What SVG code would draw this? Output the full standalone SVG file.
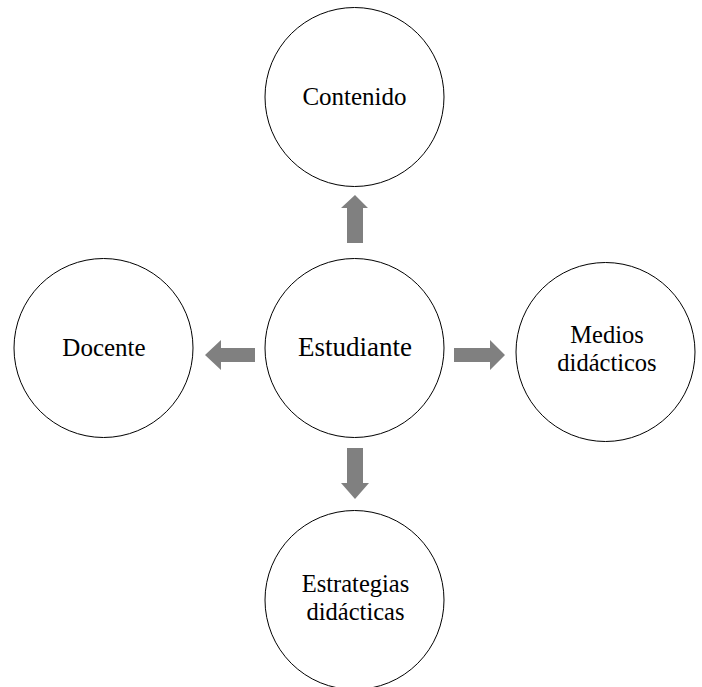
<svg xmlns="http://www.w3.org/2000/svg" width="702" height="687" viewBox="0 0 702 687">
<style>
.node circle{fill:#fff;stroke:#000;stroke-width:1}
.node text{font-family:"Liberation Serif","Times New Roman",serif;font-size:25px;fill:#000;text-anchor:middle}
.node text.ml{font-size:24.5px}
.arr{fill:#808080;stroke:none}
</style>
<rect width="702" height="687" fill="#fff"/>
<g id="contenido" class="node">
<circle cx="354.5" cy="97" r="89.5"/>
<text x="354.5" y="105">Contenido</text>
</g>
<g id="docente" class="node">
<circle cx="103.5" cy="348" r="89.5"/>
<text x="104" y="356">Docente</text>
</g>
<g id="estudiante" class="node">
<circle cx="354.5" cy="348" r="89.5"/>
<text x="355" y="356" style="font-size:27px">Estudiante</text>
</g>
<g id="medios" class="node">
<circle cx="605.5" cy="352" r="89.5"/>
<text class="ml" x="607" y="343">Medios</text>
<text class="ml" x="607" y="370.5">didácticos</text>
</g>
<g id="estrategias" class="node">
<circle cx="354.5" cy="600" r="89.5"/>
<text class="ml" x="355.5" y="592">Estrategias</text>
<text class="ml" x="355.5" y="619.5">didácticas</text>
</g>
<g id="connectors">
<polygon class="arr" points="347,243 363,243 363,208 368,208 355,195 341,208 347,208"/>
<polygon class="arr" points="255,348 255,362 221,362 221,370 205,355 221,340 221,348"/>
<polygon class="arr" points="454,348 454,362 490,362 490,370 505,355 490,340 490,348"/>
<polygon class="arr" points="347,448 363,448 363,483 369,483 355,499 341,483 347,483"/>
</g>
</svg>
